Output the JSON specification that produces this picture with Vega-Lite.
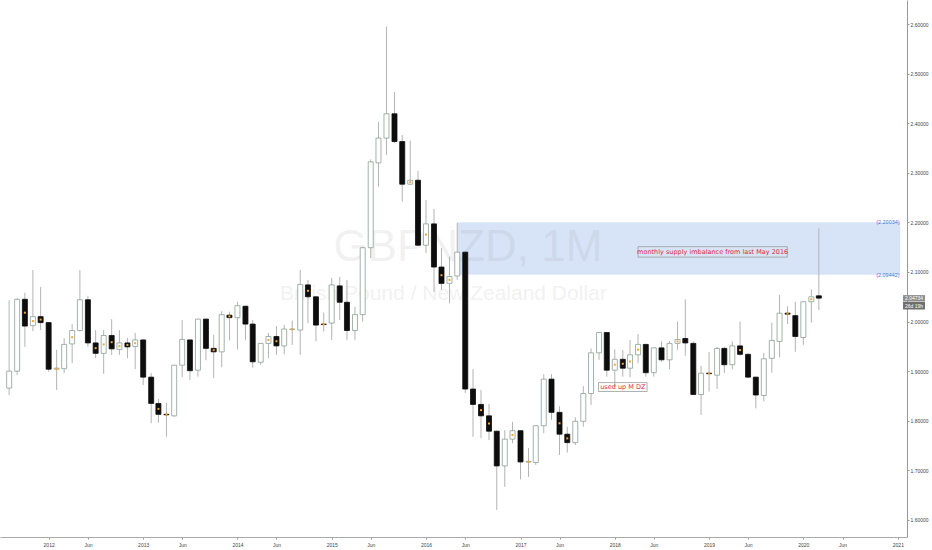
{
  "$schema": "https://vega.github.io/schema/vega-lite/v6.json",
  "width": 907,
  "height": 537,
  "autosize": "none",
  "padding": {"left": 0, "top": 0, "right": 25, "bottom": 13},
  "background": "white",
  "config": {"view": {"stroke": null}, "font": "Liberation Sans"},
  "datasets": {
    "candles": [
      {"d":"2011-08-01","o":1.866,"h":2.043,"l":1.852,"c":1.900,"s":0},
      {"d":"2011-09-01","o":1.900,"h":2.047,"l":1.892,"c":2.045,"s":0},
      {"d":"2011-10-01","o":2.045,"h":2.058,"l":1.949,"c":1.991,"s":1},
      {"d":"2011-11-01","o":1.992,"h":2.104,"l":1.981,"c":2.010,"s":1},
      {"d":"2011-12-01","o":2.010,"h":2.070,"l":1.983,"c":1.998,"s":1},
      {"d":"2012-01-01","o":1.998,"h":1.999,"l":1.899,"c":1.904,"s":0},
      {"d":"2012-02-01","o":1.904,"h":1.943,"l":1.862,"c":1.906,"s":1},
      {"d":"2012-03-01","o":1.905,"h":1.967,"l":1.896,"c":1.954,"s":0},
      {"d":"2012-04-01","o":1.955,"h":1.995,"l":1.916,"c":1.982,"s":1},
      {"d":"2012-05-01","o":1.982,"h":2.104,"l":1.980,"c":2.044,"s":0},
      {"d":"2012-06-01","o":2.044,"h":2.052,"l":1.949,"c":1.957,"s":0},
      {"d":"2012-07-01","o":1.957,"h":1.983,"l":1.926,"c":1.936,"s":1},
      {"d":"2012-08-01","o":1.936,"h":1.983,"l":1.895,"c":1.972,"s":1},
      {"d":"2012-09-01","o":1.972,"h":2.005,"l":1.933,"c":1.945,"s":1},
      {"d":"2012-10-01","o":1.944,"h":1.983,"l":1.933,"c":1.957,"s":1},
      {"d":"2012-11-01","o":1.957,"h":1.967,"l":1.926,"c":1.949,"s":1},
      {"d":"2012-12-01","o":1.950,"h":1.977,"l":1.904,"c":1.963,"s":1},
      {"d":"2013-01-01","o":1.963,"h":1.964,"l":1.872,"c":1.888,"s":0},
      {"d":"2013-02-01","o":1.888,"h":1.896,"l":1.795,"c":1.835,"s":0},
      {"d":"2013-03-01","o":1.835,"h":1.844,"l":1.796,"c":1.813,"s":1},
      {"d":"2013-04-01","o":1.813,"h":1.836,"l":1.768,"c":1.812,"s":1},
      {"d":"2013-05-01","o":1.810,"h":1.913,"l":1.808,"c":1.912,"s":0},
      {"d":"2013-06-01","o":1.912,"h":2.003,"l":1.888,"c":1.964,"s":0},
      {"d":"2013-07-01","o":1.963,"h":1.964,"l":1.882,"c":1.901,"s":0},
      {"d":"2013-08-01","o":1.902,"h":2.006,"l":1.889,"c":2.005,"s":0},
      {"d":"2013-09-01","o":2.005,"h":2.006,"l":1.922,"c":1.946,"s":0},
      {"d":"2013-10-01","o":1.946,"h":1.973,"l":1.886,"c":1.939,"s":1},
      {"d":"2013-11-01","o":1.939,"h":2.021,"l":1.908,"c":2.014,"s":0},
      {"d":"2013-12-01","o":2.013,"h":2.020,"l":1.962,"c":2.008,"s":1},
      {"d":"2014-01-01","o":2.008,"h":2.040,"l":1.944,"c":2.032,"s":0},
      {"d":"2014-02-01","o":2.031,"h":2.032,"l":1.962,"c":1.995,"s":0},
      {"d":"2014-03-01","o":1.995,"h":2.003,"l":1.907,"c":1.919,"s":0},
      {"d":"2014-04-01","o":1.918,"h":1.957,"l":1.913,"c":1.956,"s":0},
      {"d":"2014-05-01","o":1.956,"h":1.977,"l":1.926,"c":1.970,"s":1},
      {"d":"2014-06-01","o":1.970,"h":1.991,"l":1.933,"c":1.951,"s":1},
      {"d":"2014-07-01","o":1.951,"h":1.993,"l":1.934,"c":1.985,"s":0},
      {"d":"2014-08-01","o":1.984,"h":2.002,"l":1.953,"c":1.985,"s":1},
      {"d":"2014-09-01","o":1.983,"h":2.104,"l":1.933,"c":2.075,"s":0},
      {"d":"2014-10-01","o":2.074,"h":2.084,"l":1.997,"c":2.050,"s":1},
      {"d":"2014-11-01","o":2.050,"h":2.051,"l":1.960,"c":1.993,"s":0},
      {"d":"2014-12-01","o":1.995,"h":2.018,"l":1.980,"c":1.994,"s":1},
      {"d":"2015-01-01","o":1.997,"h":2.088,"l":1.963,"c":2.074,"s":0},
      {"d":"2015-02-01","o":2.072,"h":2.090,"l":2.003,"c":2.039,"s":0},
      {"d":"2015-03-01","o":2.039,"h":2.084,"l":1.963,"c":1.982,"s":0},
      {"d":"2015-04-01","o":1.982,"h":2.030,"l":1.963,"c":2.014,"s":0},
      {"d":"2015-05-01","o":2.014,"h":2.151,"l":2.000,"c":2.149,"s":0},
      {"d":"2015-06-01","o":2.149,"h":2.327,"l":2.128,"c":2.322,"s":0},
      {"d":"2015-07-01","o":2.320,"h":2.403,"l":2.272,"c":2.370,"s":0},
      {"d":"2015-08-01","o":2.370,"h":2.595,"l":2.336,"c":2.419,"s":0},
      {"d":"2015-09-01","o":2.419,"h":2.463,"l":2.360,"c":2.363,"s":0},
      {"d":"2015-10-01","o":2.363,"h":2.376,"l":2.242,"c":2.277,"s":0},
      {"d":"2015-11-01","o":2.277,"h":2.365,"l":2.276,"c":2.285,"s":1},
      {"d":"2015-12-01","o":2.285,"h":2.304,"l":2.153,"c":2.154,"s":0},
      {"d":"2016-01-01","o":2.154,"h":2.245,"l":2.138,"c":2.197,"s":1},
      {"d":"2016-02-01","o":2.197,"h":2.227,"l":2.060,"c":2.110,"s":0},
      {"d":"2016-03-01","o":2.110,"h":2.148,"l":2.064,"c":2.077,"s":1},
      {"d":"2016-04-01","o":2.077,"h":2.131,"l":2.037,"c":2.091,"s":1},
      {"d":"2016-05-01","o":2.092,"h":2.199,"l":2.084,"c":2.140,"s":0},
      {"d":"2016-06-01","o":2.140,"h":2.141,"l":1.856,"c":1.864,"s":0},
      {"d":"2016-07-01","o":1.864,"h":1.904,"l":1.768,"c":1.833,"s":0},
      {"d":"2016-08-01","o":1.833,"h":1.862,"l":1.765,"c":1.810,"s":1},
      {"d":"2016-09-01","o":1.810,"h":1.834,"l":1.761,"c":1.779,"s":1},
      {"d":"2016-10-01","o":1.779,"h":1.780,"l":1.620,"c":1.709,"s":0},
      {"d":"2016-11-01","o":1.709,"h":1.781,"l":1.667,"c":1.763,"s":0},
      {"d":"2016-12-01","o":1.763,"h":1.798,"l":1.755,"c":1.780,"s":1},
      {"d":"2017-01-01","o":1.780,"h":1.781,"l":1.682,"c":1.717,"s":0},
      {"d":"2017-02-01","o":1.717,"h":1.745,"l":1.687,"c":1.718,"s":1},
      {"d":"2017-03-01","o":1.716,"h":1.791,"l":1.711,"c":1.790,"s":0},
      {"d":"2017-04-01","o":1.790,"h":1.894,"l":1.775,"c":1.884,"s":0},
      {"d":"2017-05-01","o":1.884,"h":1.894,"l":1.802,"c":1.817,"s":0},
      {"d":"2017-06-01","o":1.817,"h":1.829,"l":1.731,"c":1.773,"s":1},
      {"d":"2017-07-01","o":1.773,"h":1.788,"l":1.736,"c":1.756,"s":1},
      {"d":"2017-08-01","o":1.756,"h":1.807,"l":1.751,"c":1.799,"s":0},
      {"d":"2017-09-01","o":1.799,"h":1.870,"l":1.788,"c":1.855,"s":0},
      {"d":"2017-10-01","o":1.855,"h":1.946,"l":1.832,"c":1.937,"s":0},
      {"d":"2017-11-01","o":1.937,"h":1.979,"l":1.923,"c":1.978,"s":0},
      {"d":"2017-12-01","o":1.978,"h":1.979,"l":1.889,"c":1.902,"s":0},
      {"d":"2018-01-01","o":1.902,"h":1.944,"l":1.868,"c":1.924,"s":1},
      {"d":"2018-02-01","o":1.924,"h":1.943,"l":1.889,"c":1.906,"s":1},
      {"d":"2018-03-01","o":1.906,"h":1.963,"l":1.888,"c":1.933,"s":1},
      {"d":"2018-04-01","o":1.933,"h":1.975,"l":1.916,"c":1.954,"s":1},
      {"d":"2018-05-01","o":1.954,"h":1.955,"l":1.889,"c":1.897,"s":0},
      {"d":"2018-06-01","o":1.897,"h":1.948,"l":1.889,"c":1.947,"s":0},
      {"d":"2018-07-01","o":1.947,"h":1.960,"l":1.919,"c":1.923,"s":0},
      {"d":"2018-08-01","o":1.923,"h":1.961,"l":1.904,"c":1.956,"s":0},
      {"d":"2018-09-01","o":1.956,"h":2.000,"l":1.943,"c":1.964,"s":1},
      {"d":"2018-10-01","o":1.966,"h":2.045,"l":1.931,"c":1.957,"s":0},
      {"d":"2018-11-01","o":1.956,"h":1.960,"l":1.852,"c":1.853,"s":0},
      {"d":"2018-12-01","o":1.853,"h":1.911,"l":1.812,"c":1.896,"s":0},
      {"d":"2019-01-01","o":1.896,"h":1.939,"l":1.859,"c":1.895,"s":1},
      {"d":"2019-02-01","o":1.892,"h":1.949,"l":1.864,"c":1.946,"s":0},
      {"d":"2019-03-01","o":1.946,"h":1.949,"l":1.896,"c":1.913,"s":0},
      {"d":"2019-04-01","o":1.913,"h":1.960,"l":1.904,"c":1.951,"s":0},
      {"d":"2019-05-01","o":1.951,"h":2.000,"l":1.931,"c":1.934,"s":1},
      {"d":"2019-06-01","o":1.934,"h":1.937,"l":1.886,"c":1.888,"s":0},
      {"d":"2019-07-01","o":1.888,"h":1.889,"l":1.825,"c":1.852,"s":0},
      {"d":"2019-08-01","o":1.851,"h":1.937,"l":1.839,"c":1.925,"s":0},
      {"d":"2019-09-01","o":1.926,"h":1.998,"l":1.897,"c":1.962,"s":0},
      {"d":"2019-10-01","o":1.960,"h":2.054,"l":1.928,"c":2.017,"s":0},
      {"d":"2019-11-01","o":2.017,"h":2.031,"l":1.995,"c":2.015,"s":1},
      {"d":"2019-12-01","o":2.012,"h":2.040,"l":1.939,"c":1.970,"s":0},
      {"d":"2020-01-01","o":1.968,"h":2.041,"l":1.953,"c":2.040,"s":0},
      {"d":"2020-02-01","o":2.040,"h":2.065,"l":1.998,"c":2.050,"s":1},
      {"d":"2020-03-01","o":2.052,"h":2.188,"l":2.023,"c":2.0473,"s":0}
    ],
    "zone": [{"x": "2016-05-01", "x2": "2021-01-10", "y": 2.09442, "y2": 2.20034}],
    "zoneLabels": [
      {"x": "2021-01-08", "y": 2.20034, "t": "(2.20034)"},
      {"x": "2021-01-08", "y": 2.09442, "t": "(2.09442)"}
    ],
    "watermark": [
      {"x": "2016-06-11", "y": 2.148, "t": "GBPNZD, 1M", "big": 1},
      {"x": "2016-03-08", "y": 2.0556, "t": "British Pound / New Zealand Dollar", "big": 0}
    ],
    "notes": [
      {"x": "2018-04-01", "x2": "2019-10-31", "y": 2.151, "y2": 2.130, "t": "monthly supply imbalance from last May 2016"},
      {"x": "2017-10-30", "x2": "2018-05-06", "y": 1.877, "y2": 1.859, "t": "used up M DZ"}
    ],
    "priceTag": [
      {"x": "2021-01-21", "x2": "2021-04-16", "y": 2.0534, "y2": 2.0405, "t": "2.04734", "k": "price"},
      {"x": "2021-01-21", "x2": "2021-04-16", "y": 2.0395, "y2": 2.0244, "t": "26d 19h", "k": "timer"}
    ]
  },
  "layer": [
    {
      "data": {"name": "zone"},
      "mark": {"type": "rect", "fill": "#d7e4f8"},
      "encoding": {
        "x": {"field": "x", "type": "temporal",
              "scale": {"domain": [{"year": 2011, "month": 7, "date": 16}, {"year": 2021, "month": 1, "date": 17}]},
              "axis": {"title": null, "orient": "bottom", "grid": false,
                       "values": [
                         {"year": 2012, "month": 1, "date": 1}, {"year": 2012, "month": 6, "date": 1},
                         {"year": 2013, "month": 1, "date": 1}, {"year": 2013, "month": 6, "date": 1},
                         {"year": 2014, "month": 1, "date": 1}, {"year": 2014, "month": 6, "date": 1},
                         {"year": 2015, "month": 1, "date": 1}, {"year": 2015, "month": 6, "date": 1},
                         {"year": 2016, "month": 1, "date": 1}, {"year": 2016, "month": 6, "date": 1},
                         {"year": 2017, "month": 1, "date": 1}, {"year": 2017, "month": 6, "date": 1},
                         {"year": 2018, "month": 1, "date": 1}, {"year": 2018, "month": 6, "date": 1},
                         {"year": 2019, "month": 1, "date": 1}, {"year": 2019, "month": 6, "date": 1},
                         {"year": 2020, "month": 1, "date": 1}, {"year": 2020, "month": 6, "date": 1},
                         {"year": 2021, "month": 1, "date": 1}
                       ],
                       "labelExpr": "month(datum.value) == 0 ? timeFormat(datum.value, '%Y') : 'Jun'",
                       "labelFontSize": 5, "labelColor": "#444", "labelPadding": 3,
                       "tickSize": 2, "tickColor": "#999", "domainColor": "#aaa", "labelOverlap": false, "labelFlush": false}},
        "x2": {"field": "x2"},
        "y": {"field": "y", "type": "quantitative",
              "scale": {"domain": [1.5657, 2.6484], "zero": false, "nice": false},
              "axis": {"title": null, "orient": "right", "grid": false,
                       "values": [1.6, 1.65, 1.7, 1.75, 1.8, 1.85, 1.9, 1.95, 2.0, 2.05, 2.1, 2.15, 2.2, 2.25, 2.3, 2.35, 2.4, 2.45, 2.5, 2.55, 2.6],
                       "format": ".5f", "labelFontSize": 5, "labelColor": "#444", "labelPadding": 1,
                       "tickSize": 2, "tickColor": "#999", "domainColor": "#999", "labelOverlap": false}},
        "y2": {"field": "y2"}
      }
    },
    {
      "data": {"name": "watermark"},
      "mark": {"type": "text", "align": "center", "baseline": "middle", "fill": "#7f7f7f", "opacity": 0.1, "font": "Liberation Sans"},
      "encoding": {
        "x": {"field": "x", "type": "temporal"},
        "y": {"field": "y", "type": "quantitative"},
        "text": {"field": "t"},
        "size": {"condition": {"test": "datum.big == 1", "value": 44}, "value": 21}
      }
    },
    {
      "data": {"name": "candles"},
      "mark": {"type": "rule", "stroke": "#b3b3b3", "strokeWidth": 1},
      "encoding": {
        "x": {"field": "d", "type": "temporal"},
        "y": {"field": "l", "type": "quantitative"},
        "y2": {"field": "h"}
      }
    },
    {
      "data": {"name": "candles"},
      "mark": {"type": "bar", "size": 5, "strokeWidth": 0.8},
      "encoding": {
        "x": {"field": "d", "type": "temporal"},
        "y": {"field": "o", "type": "quantitative"},
        "y2": {"field": "c"},
        "fill": {"condition": {"test": "datum.c >= datum.o", "value": "#ffffff"}, "value": "#0d0d0d"},
        "stroke": {"condition": {"test": "datum.c >= datum.o", "value": "#8a9f94"}, "value": "#0d0d0d"}
      }
    },
    {
      "data": {"name": "candles"},
      "transform": [{"filter": "datum.s == 1"}, {"calculate": "(datum.o + datum.c) / 2", "as": "m"}],
      "mark": {"type": "square", "size": 4, "fill": "#f2a530", "opacity": 1},
      "encoding": {
        "x": {"field": "d", "type": "temporal"},
        "y": {"field": "m", "type": "quantitative"}
      }
    },
    {
      "data": {"name": "notes"},
      "mark": {"type": "rect", "fillOpacity": 0, "stroke": "#9a9a9a", "strokeWidth": 0.8},
      "encoding": {
        "x": {"field": "x", "type": "temporal"},
        "x2": {"field": "x2"},
        "y": {"field": "y", "type": "quantitative"},
        "y2": {"field": "y2"}
      }
    },
    {
      "data": {"name": "notes"},
      "transform": [
        {"calculate": "(datum.y + datum.y2) / 2", "as": "ym"},
        {"calculate": "(time(toDate(datum.x)) + time(toDate(datum.x2))) / 2", "as": "xm"}
      ],
      "mark": {"type": "text", "align": "center", "baseline": "middle", "fill": "#e0283c", "fontSize": 6.5, "font": "DejaVu Sans"},
      "encoding": {
        "x": {"field": "xm", "type": "temporal"},
        "y": {"field": "ym", "type": "quantitative"},
        "text": {"field": "t"}
      }
    },
    {
      "data": {"name": "zoneLabels"},
      "mark": {"type": "text", "align": "right", "baseline": "middle", "fill": "#3f78d4", "fontSize": 5.5},
      "encoding": {
        "x": {"field": "x", "type": "temporal"},
        "y": {"field": "y", "type": "quantitative"},
        "text": {"field": "t"}
      }
    },
    {
      "data": {"name": "priceTag"},
      "mark": {"type": "rect", "clip": false},
      "encoding": {
        "x": {"field": "x", "type": "temporal"},
        "x2": {"field": "x2"},
        "y": {"field": "y", "type": "quantitative"},
        "y2": {"field": "y2"},
        "fill": {"condition": {"test": "datum.k == 'price'", "value": "#8c8c8c"}, "value": "#6e6e6e"}
      }
    },
    {
      "data": {"name": "priceTag"},
      "transform": [
        {"calculate": "(datum.y + datum.y2) / 2", "as": "ym"},
        {"calculate": "(time(toDate(datum.x)) + time(toDate(datum.x2))) / 2", "as": "xm"}
      ],
      "mark": {"type": "text", "align": "center", "baseline": "middle", "fill": "#ffffff", "fontSize": 5, "clip": false},
      "encoding": {
        "x": {"field": "xm", "type": "temporal"},
        "y": {"field": "ym", "type": "quantitative"},
        "text": {"field": "t"}
      }
    }
  ]
}
